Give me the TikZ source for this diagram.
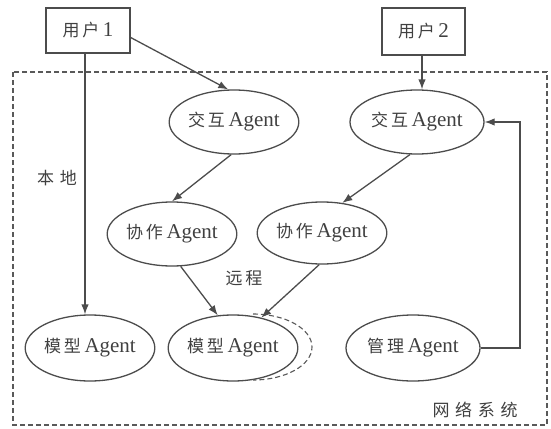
\documentclass[tikz,border=0pt]{standalone}
\usepackage{fontspec}
\setmainfont{Liberation Serif}
\newfontfamily\cjk{Noto Sans CJK SC}
\usetikzlibrary{arrows.meta,shapes.geometric}
\newcommand\zh[1]{{\fontsize{17}{20}\selectfont\cjk #1}}
\begin{document}
\begin{tikzpicture}[x=1pt,y=1pt,
  every node/.style={text=black!75, font=\fontsize{21}{24}\selectfont},
  ln/.style={draw=black!70, line width=1.3pt},
  arr/.style={ln, -{Latex[length=10pt,width=7.5pt]}},
  agent/.style={ellipse, ln, inner sep=0pt},
  usr/.style={rectangle, ln, inner sep=0pt, minimum width=84pt, minimum height=45pt},
  lbl/.style={inner sep=0pt},
  dsh/.style={draw=black!65, line width=1.1pt, dash pattern=on 5pt off 3pt}]
\useasboundingbox (0,0) rectangle (551,-428);
\draw[dsh] (13,-72) rectangle (547,-425);

\node[usr] (u1) at (88,-30.5) {\zh{用\,户}\,1};
\node[usr, minimum width=83pt, minimum height=47pt] (u2) at (423.5,-31.5) {\zh{用\,户}\,2};

\node[agent, minimum width=116pt, minimum height=64pt] (i1) at (234,-122) {\zh{交\,互}\,Agent};
\node[agent, minimum width=134pt, minimum height=64pt] (i2) at (417,-122) {\zh{交\,互}\,Agent};
\node[agent, minimum width=120pt, minimum height=64pt] (c1) at (172,-234) {\zh{协\,作}\,Agent};
\node[agent, minimum width=120pt, minimum height=62pt] (c2) at (322,-233) {\zh{协\,作}\,Agent};
\node[agent, minimum width=126pt, minimum height=66pt] (m1) at (90,-348) {\zh{模\,型}\,Agent};
\node[agent, minimum width=118pt, minimum height=66pt] (m2) at (233,-348) {\zh{模\,型}\,Agent};
\node[agent, minimum width=134pt, minimum height=66pt] (g) at (413,-348) {\zh{管\,理}\,Agent};

\node[lbl] (l1) at (57,-178) {\zh{本\,\,地}};
\node[lbl] (l2) at (244,-278) {\zh{远\,程}};
\node[lbl] (l3) at (475,-410) {\zh{网\,\,络\,\,系\,\,统}};

\draw[dsh] (253,-314) arc[start angle=90, end angle=-90, x radius=59pt, y radius=33pt];

\draw[arr] ([yshift=-7pt]u1.east) -- (i1.100);
\draw[arr] ([xshift=-3pt]u1.south) -- ([xshift=-3pt]u1.south |- m1.north);
\draw[arr] ([xshift=-1.5pt]u2.south) -- ([xshift=-1.5pt]u2.south |- i2.north);
\draw[arr] (i1.265) -- (c1.north);
\draw[arr] (i2.258) -- (c2.56);
\draw[arr] (c1.285) -- (m2.115);
\draw[arr] (c2.265) -- (m2.47);
\coordinate (rt) at (520,-122);
\draw[arr] (g.east) -| (rt) -- (i2.east);
\end{tikzpicture}
\end{document}
